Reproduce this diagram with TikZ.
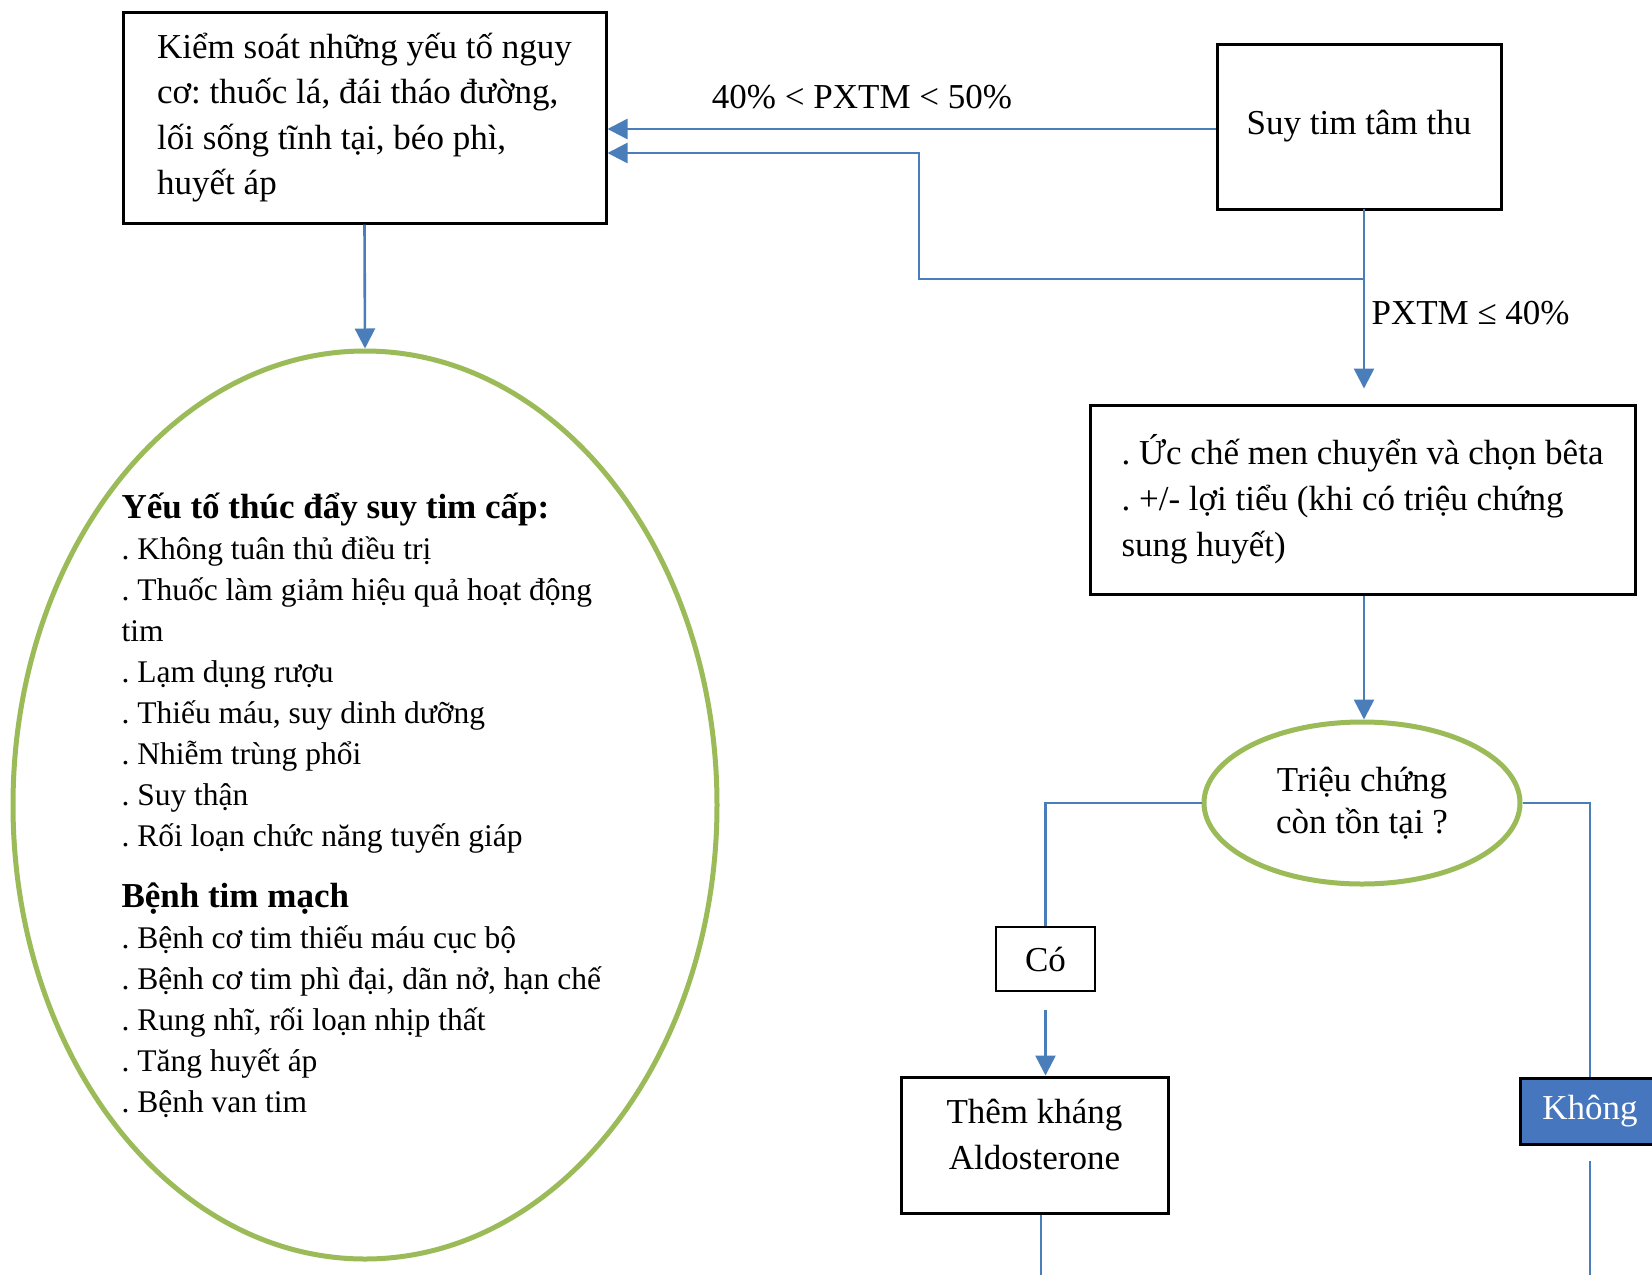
\documentclass[tikz,border=0pt]{standalone}
\usepackage{fontspec}
\setmainfont{Liberation Serif}
\frenchspacing
\usetikzlibrary{arrows.meta,shapes.geometric,calc}

\definecolor{flowblue}{HTML}{4A7EBB}
\definecolor{leafgreen}{HTML}{9BBB59}
\definecolor{nofill}{HTML}{4677BE}

\begin{document}
\begin{tikzpicture}[x=1pt,y=-1pt,
  box/.style={draw=black, line width=3pt, rectangle, inner sep=0pt},
  flow/.style={draw=flowblue, line width=2.6pt},
  arr/.style={flow, -{Triangle[length=20pt,width=20pt]}},
  oval/.style={draw=leafgreen, line width=5pt, ellipse, inner sep=0pt},
  every node/.style={font=\fontsize{35}{45.5}\selectfont}
]
\useasboundingbox[fill=white] (0,0) rectangle (1652,1275);

% risk-factor control box
\node[box, minimum width=483pt, minimum height=211pt, align=left]
  (A) at (364.5,117.5)
  {Kiểm soát những yếu tố nguy\\ cơ: thuốc lá, đái tháo đường,\\ lối sống tĩnh tại, béo phì,\\ huyết áp};

% systolic heart failure
\node[box, minimum width=284pt, minimum height=165pt] (B) at (1359,126.5) {Suy tim tâm thu};

% first-line treatment
\node[box, minimum width=545pt, minimum height=189pt, align=left,
  font=\fontsize{35}{46}\selectfont]
  (C) at (1362.5,499.5)
  {. Ức chế men chuyển và chọn bêta\\ . +/- lợi tiểu (khi có triệu chứng\\ sung huyết)};

% decision
\node[oval, minimum width=316pt, minimum height=162pt, align=center,
  font=\fontsize{35}{42}\selectfont] (D) at (1362,803) {Triệu chứng\\ còn tồn tại ?};

\node[box, line width=2.5pt, minimum width=99pt, minimum height=64pt] (Co) at (1045.5,959) {Có};

\node[box, minimum width=267pt, minimum height=136pt] (E) at (1034.5,1145) {};
\node[align=center, font=\fontsize{35}{46}\selectfont] (Etext) at (1034.5,1134)
  {Thêm kháng\\ Aldosterone};

\node[box, fill=nofill, text=white, minimum width=140pt, minimum height=66pt] (K) at (1590,1111) {Không};

% precipitating factors
\node[oval, minimum width=704pt, minimum height=908pt] (F) at (365,805) {};
\node[anchor=north west, align=left, font=\fontsize{31.5}{41}\selectfont] (Ftext) at (118,489)
  {{\bfseries\fontsize{35}{41}\selectfont Yếu tố thúc đẩy suy tim cấp:}\\
   . Không tuân thủ điều trị\\
   . Thuốc làm giảm hiệu quả hoạt động\\
   tim\\
   . Lạm dụng rượu\\
   . Thiếu máu, suy dinh dưỡng\\
   . Nhiễm trùng phổi\\
   . Suy thận\\
   . Rối loạn chức năng tuyến giáp\\[20pt]
   {\bfseries\fontsize{35}{41}\selectfont Bệnh tim mạch}\\
   . Bệnh cơ tim thiếu máu cục bộ\\
   . Bệnh cơ tim phì đại, dãn nở, hạn chế\\
   . Rung nhĩ, rối loạn nhịp thất\\
   . Tăng huyết áp\\
   . Bệnh van tim};

% labels
\node (L1) at (862,97) {40\% < PXTM < 50\%};
\node[anchor=west] (L2) at (1368,313) {PXTM ≤ 40\%};

% connectors
\coordinate (trunk) at (1364,209);
\coordinate (bend) at (919,279);
\coordinate (Eend) at (1041,1275);
\coordinate (Kend) at (1590,1275);

\draw[arr] (A.south) -- (F.north);
\draw[arr] ([yshift=-2.5pt]B.west) -- ([yshift=-2.5pt]B.west -| A.east);
\draw[arr] (trunk) |- (bend) |- (A.east |- 0,153);
\draw[arr, shorten >=15pt] (trunk) -- (trunk |- C.north);
\draw[arr] (trunk |- C.south) -- (trunk |- D.north);
\draw[flow] (D.west) -| (Co.north);
\draw[arr, shorten <=18pt] (Co.south) -- (Co.south |- E.north);
\draw[flow] (E.south -| Eend) -- (Eend);
\draw[flow] (D.east) -| (K.north);
\draw[flow, shorten <=15pt] (K.south) -- (Kend);
\end{tikzpicture}
\end{document}
